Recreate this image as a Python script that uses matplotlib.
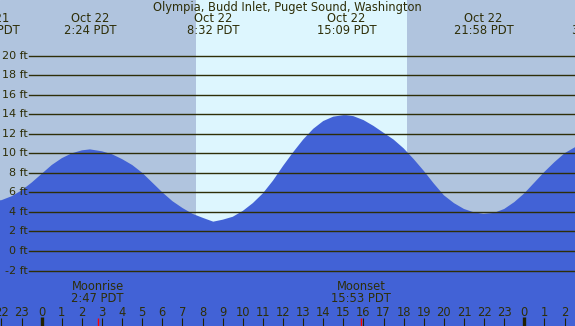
import matplotlib
matplotlib.use("Agg")
import matplotlib.pyplot as plt

title = "Olympia, Budd Inlet, Puget Sound, Washington"

# tide height (ft), hours since midnight Oct 22
tide_hours = [-2.57, -2, -1.5, -1, -0.5, 0, 0.5, 1, 1.5, 2, 2.4, 3, 3.5, 4, 4.5, 5, 5.5, 6, 6.5,
              7, 7.5, 8, 8.53, 9, 9.5, 10, 10.5, 11, 11.5, 12, 12.5, 13, 13.5, 14, 14.5, 15, 15.15,
              15.5, 16, 16.5, 17, 17.5, 18, 18.5, 19, 19.5, 20, 20.5, 21, 21.5, 21.97, 22.5, 23,
              23.5, 24, 24.5, 25, 25.5, 26, 26.5, 27, 27.67]
tide_ft = [5.1, 5.2, 5.6, 6.2, 7.0, 7.9, 8.8, 9.5, 10.0, 10.3, 10.4, 10.2, 9.9, 9.4, 8.8, 8.0, 7.0, 6.0, 5.1,
           4.4, 3.8, 3.4, 3.0, 3.2, 3.5, 4.1, 4.9, 5.9, 7.2, 8.7, 10.1, 11.4, 12.5, 13.3, 13.75, 13.9, 13.9,
           13.8, 13.4, 12.8, 12.1, 11.4, 10.5, 9.4, 8.2, 6.9, 5.7, 4.9, 4.3, 3.95, 3.8, 3.9, 4.3,
           5.0, 5.9, 7.0, 8.1, 9.1, 10.0, 10.6, 11.0, 11.2]

# high / low labels
extreme_hours = [-2.57, 2.4, 8.53, 15.15, 21.97, 27.67]
extreme_dates = ["Oct 21", "Oct 22", "Oct 22", "Oct 22", "Oct 22", "Oct 23"]
extreme_times = ["21:26 PDT", "2:24 PDT", "8:32 PDT", "15:09 PDT", "21:58 PDT", "3:40 PDT"]

sunrise, sunset = 7.67, 18.17
moon_hours = [2.783, 15.883]
moon_names = ["Moonrise", "Moonset"]
moon_times = ["2:47 PDT", "15:53 PDT"]

ft_levels = [20, 18, 16, 14, 12, 10, 8, 6, 4, 2, 0, -2]
hour_ticks = list(range(-2, 27))

W, H = 575, 326
xmin, xmax = -2.074, 26.52
ymin, ymax = -7.68, 25.69

night = "#b0c4de"
day = "#ddf6fe"
water = "#4262d6"
ink = "#2e2e08"
fs = 8.3

fig = plt.figure(figsize=(W / 100, H / 100), dpi=100)
ax = fig.add_axes([0, 0, 1, 1])
ax.set_xlim(xmin, xmax)
ax.set_ylim(ymin, ymax)
ax.axis("off")
ax.add_patch(plt.Rectangle((0, 0), 1, 1, transform=ax.transAxes, color=night, zorder=0))
ax.axvspan(sunrise, sunset, color=day, zorder=1, lw=0)

ax.fill_between(tide_hours, tide_ft, ymin - 5, color=water, lw=0, zorder=2)

def fy(px):
    return 1 - px / H

for lv in ft_levels:
    ax.axhline(lv, xmin=29 / W, xmax=1, color=ink, lw=1.0, zorder=3)
    ax.text(27.5 / W, lv, f"{lv} ft", transform=ax.get_yaxis_transform(),
            ha="right", va="center", fontsize=8, color=ink, zorder=4)

ax.text(287 / W, fy(7), title, transform=ax.transAxes, ha="center", va="center",
        fontsize=fs, color=ink, zorder=4)

tx = ax.get_xaxis_transform()
for h, d, t in zip(extreme_hours, extreme_dates, extreme_times):
    ax.text(h, fy(19), d, transform=tx, ha="center", va="center", fontsize=fs, color=ink, zorder=4)
    ax.text(h, fy(31), t, transform=tx, ha="center", va="center", fontsize=fs, color=ink, zorder=4)

for h, n, t in zip(moon_hours, moon_names, moon_times):
    ax.text(h, fy(287), n, transform=tx, ha="center", va="center", fontsize=fs, color=ink, zorder=4)
    ax.text(h, fy(299), t, transform=tx, ha="center", va="center", fontsize=fs, color=ink, zorder=4)

for h in hour_ticks:
    ax.text(h, fy(312), str(h % 24), transform=tx, ha="center", va="center",
            fontsize=fs, color=ink, zorder=4)
    if h % 24 == 0:
        ax.vlines(h, fy(326), fy(317), transform=tx, color="#222200", lw=2.4, zorder=4)
    else:
        ax.vlines(h, fy(326), fy(318), transform=tx, color="#222200", lw=0.8, zorder=4)

for h in moon_hours:
    ax.vlines(h, fy(326), fy(318), transform=tx, color="red", lw=1.0, zorder=5)

fig.savefig("out.png", dpi=100)
